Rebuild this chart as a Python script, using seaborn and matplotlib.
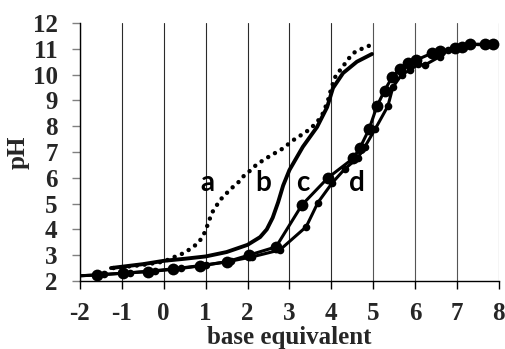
import numpy as np
import pandas as pd
import matplotlib
matplotlib.use("Agg")
import matplotlib.pyplot as plt
import seaborn as sns

# titration curves
a_x = [-1.2, -0.5, 0.0, 0.31, 0.48, 0.67, 0.82, 0.94, 1.03, 1.15, 1.25, 1.37, 1.5, 1.65, 1.79,
       1.91, 2.08, 2.22, 2.53, 2.87, 3.04, 3.2, 3.37, 3.54, 3.66, 3.78, 3.85, 3.92, 3.97, 4.04,
       4.11, 4.25, 4.4, 4.56, 4.75, 4.95]
a_y = [2.5, 2.62, 2.75, 2.97, 3.08, 3.28, 3.47, 3.74, 4.1, 4.64, 4.9, 5.18, 5.4, 5.64, 5.84,
       6.07, 6.3, 6.52, 6.84, 7.16, 7.4, 7.58, 7.74, 7.97, 8.16, 8.43, 8.7, 9.0, 9.3, 9.66,
       9.98, 10.25, 10.6, 10.87, 11.02, 11.15]

b_x = [-1.26, -0.5, 0.0, 0.5, 1.0, 1.5, 2.0, 2.3, 2.46, 2.6, 2.73, 2.85, 3.0, 3.32, 3.66,
       3.9, 4.04, 4.28, 4.61, 4.97]
b_y = [2.5, 2.65, 2.78, 2.86, 2.95, 3.12, 3.4, 3.7, 4.0, 4.45, 5.05, 5.7, 6.3, 7.2, 7.97,
       8.74, 9.48, 10.06, 10.5, 10.8]

c_x = [-2.0, -1.6, -0.97, -0.37, 0.23, 0.86, 1.5, 2.03, 2.68, 3.3, 3.92, 4.52, 4.68, 4.9,
       5.09, 5.27, 5.45, 5.64, 5.83, 6.02, 6.4, 6.6, 6.95, 7.12, 7.3, 7.67, 7.86]
c_y = [2.2, 2.23, 2.3, 2.36, 2.45, 2.58, 2.74, 3.0, 3.32, 4.95, 6.0, 6.75, 7.15, 7.88,
       8.78, 9.38, 9.9, 10.22, 10.45, 10.56, 10.83, 10.9, 11.02, 11.07, 11.18, 11.18, 11.18]

d_x = [-2.0, -1.43, -0.8, -0.2, 0.4, 1.0, 1.6, 2.1, 2.77, 3.4, 3.68, 4.02, 4.32, 4.63, 4.8,
       5.05, 5.35, 5.47, 5.68, 5.88, 6.07, 6.23, 6.59, 6.78, 7.12, 7.3, 7.64, 7.86]
d_y = [2.2, 2.25, 2.32, 2.4, 2.5, 2.62, 2.77, 2.93, 3.2, 4.1, 5.04, 5.8, 6.34, 6.77, 7.2,
       7.9, 8.78, 9.52, 10.0, 10.18, 10.4, 10.37, 10.7, 10.95, 11.1, 11.18, 11.15, 11.18]

curve_labels = ["a", "b", "c", "d"]
label_x = [1.05, 2.37, 3.32, 4.6]
label_y = [5.8, 5.8, 5.8, 5.8]

x_ticks = list(range(-2, 9))
y_ticks = list(range(2, 13))

sns.set_theme(style="white")
plt.rcParams["font.family"] = ["Liberation Serif", "DejaVu Serif"]

fig, ax = plt.subplots(figsize=(5.06, 3.49), dpi=100)
fig.subplots_adjust(left=0.158, right=0.986, bottom=0.195, top=0.934)

# vertical grid lines only
for xv in x_ticks:
    ax.axvline(xv, color="#2b2b2b" if xv < 5 else "#555555", lw=0.8, zorder=0)

sns.lineplot(x=a_x, y=a_y, ax=ax, sort=False, estimator=None, color="black",
             lw=3.2, linestyle=(0, (0.01, 1.75)), dash_capstyle="round")
sns.lineplot(x=b_x, y=b_y, ax=ax, sort=False, estimator=None, color="black",
             lw=2.8, solid_joinstyle="round", solid_capstyle="round")
sns.lineplot(x=c_x, y=c_y, ax=ax, sort=False, estimator=None, color="black",
             lw=2.2, marker="o", markersize=8.5, markeredgewidth=0,
             markevery=slice(1, None))
sns.lineplot(x=d_x, y=d_y, ax=ax, sort=False, estimator=None, color="black",
             lw=2.2, marker="o", markersize=5.5, markeredgewidth=0,
             markevery=slice(1, None))

for t, tx, ty in zip(curve_labels, label_x, label_y):
    ax.text(tx, ty, t, fontsize=20, fontweight="bold", family=["Lato", "DejaVu Sans"],
            ha="center", va="center", color="black")

ax.set_xlim(-2, 8)
ax.set_ylim(2, 12)
ax.set_xticks(x_ticks)
ax.set_yticks(y_ticks)
ax.set_xticklabels([str(v) for v in x_ticks], fontsize=18, fontweight="bold")
ax.set_yticklabels([str(v) for v in y_ticks], fontsize=18, fontweight="bold")
ax.tick_params(axis="x", direction="out", length=6, width=1, color="black", pad=9,
               bottom=True)
ax.tick_params(axis="y", direction="out", length=6, width=1, color="#808080", pad=10,
               left=True)
ax.set_xlabel("base equivalent", fontsize=18, fontweight="bold", labelpad=1)
ax.set_ylabel("pH", fontsize=18, fontweight="bold", labelpad=2)

for side in ["top", "right"]:
    ax.spines[side].set_visible(False)
ax.spines["left"].set_color("black")
ax.spines["bottom"].set_color("black")
ax.spines["left"].set_linewidth(1)
ax.spines["bottom"].set_linewidth(1)

fig.savefig("out.png", dpi=100)
